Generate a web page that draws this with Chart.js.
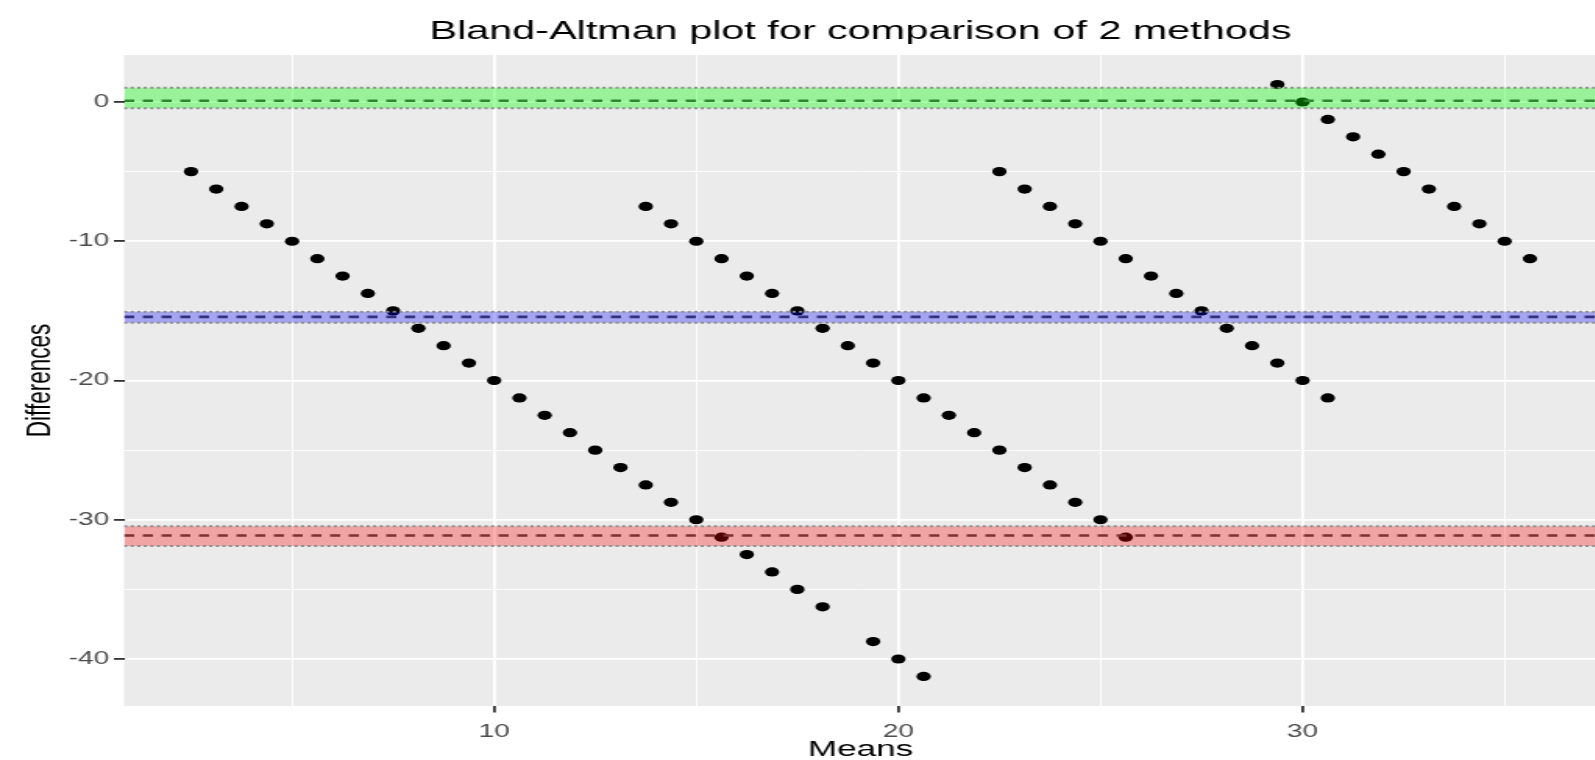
<!DOCTYPE html>
<html>
<head>
<meta charset="utf-8">
<script src="https://cdn.jsdelivr.net/npm/chart.js@4.4.1/dist/chart.umd.min.js"></script>
<style>
html,body{margin:0;padding:0;overflow:hidden;background:#fff;width:1595px;height:760px;}
</style>
</head>
<body>
<canvas id="c" width="1028" height="760" style="display:block;width:1604px;height:760px;"></canvas>
<script>
// ---------------- data ----------------
const titleText = 'Bland-Altman plot for comparison of 2 methods';
const xAxisTitle = 'Means';
const yAxisTitle = 'Differences';

const means = [
  2.5, 3.125, 3.75, 4.375, 5, 5.625, 6.25, 6.875, 7.5, 8.125, 8.75, 9.375, 10, 10.625, 11.25, 11.875,
  12.5, 13.125, 13.75, 14.375, 15, 15.625, 16.25, 16.875, 17.5, 18.125, 19.375, 20, 20.625,
  13.75, 14.375, 15, 15.625, 16.25, 16.875, 17.5, 18.125, 18.75, 19.375, 20, 20.625, 21.25, 21.875,
  22.5, 23.125, 23.75, 24.375, 25, 25.625,
  22.5, 23.125, 23.75, 24.375, 25, 25.625, 26.25, 26.875, 27.5, 28.125, 28.75, 29.375, 30, 30.625,
  29.375, 30, 30.625, 31.25, 31.875, 32.5, 33.125, 33.75, 34.375, 35, 35.625
];
const diffs = [
  -5, -6.25, -7.5, -8.75, -10, -11.25, -12.5, -13.75, -15, -16.25, -17.5, -18.75, -20, -21.25, -22.5, -23.75,
  -25, -26.25, -27.5, -28.75, -30, -31.25, -32.5, -33.75, -35, -36.25, -38.75, -40, -41.25,
  -7.5, -8.75, -10, -11.25, -12.5, -13.75, -15, -16.25, -17.5, -18.75, -20, -21.25, -22.5, -23.75,
  -25, -26.25, -27.5, -28.75, -30, -31.25,
  -5, -6.25, -7.5, -8.75, -10, -11.25, -12.5, -13.75, -15, -16.25, -17.5, -18.75, -20, -21.25,
  1.25, 0, -1.25, -2.5, -3.75, -5, -6.25, -7.5, -8.75, -10, -11.25
];

// limits of agreement / bias with their confidence intervals
const bandNames  = ['Upper limit of agreement', 'Mean difference', 'Lower limit of agreement'];
const bandCenter = [0.09, -15.43, -31.13];
const bandUpper  = [1.02, -15.07, -30.46];
const bandLower  = [-0.45, -15.86, -31.89];

const xLimits = [0.844, 37.28];
const yLimits = [-43.375, 3.375];
const xMajorTicks = [10, 20, 30];
const xMinorTicks = [5, 15, 25, 35];
const yMajorTicks = [-40, -30, -20, -10, 0];
const yMinorTicks = [-35, -25, -15, -5];

// ---------------- styles ----------------
const FONT = "'Liberation Sans', Arial, Helvetica, sans-serif";
const bandColors = ['rgba(0,255,0,0.35)', 'rgba(0,0,255,0.30)', 'rgba(255,0,0,0.30)'];
Chart.defaults.font.family = FONT;

function hline(y) {
  return [{x: xLimits[0], y: y}, {x: xLimits[1], y: y}];
}

const datasets = [];
datasets.push({
  label: 'Observations',
  data: means.map((m, i) => ({x: m, y: diffs[i]})),
  showLine: false,
  pointRadius: 4.6,
  pointHoverRadius: 4.6,
  pointBackgroundColor: '#000',
  pointBorderWidth: 0,
  order: 10
});
bandNames.forEach((name, i) => {
  datasets.push({
    label: name,
    data: hline(bandCenter[i]),
    borderColor: '#474747',
    borderWidth: 2.6,
    borderDash: [6.5, 5.5],
    pointRadius: 0,
    fill: false,
    order: 8
  });
  datasets.push({
    label: name + ' CI',
    data: hline(bandUpper[i]),
    borderWidth: 0,
    borderColor: 'rgba(0,0,0,0)',
    backgroundColor: bandColors[i],
    pointRadius: 0,
    fill: {value: bandLower[i]},
    order: 5
  });
  datasets.push({
    label: name + ' CI upper',
    data: hline(bandUpper[i]),
    borderColor: '#8c8c8c',
    borderWidth: 2,
    borderDash: [2, 2.2],
    pointRadius: 0,
    fill: false,
    order: 1
  });
  datasets.push({
    label: name + ' CI lower',
    data: hline(bandLower[i]),
    borderColor: '#8c8c8c',
    borderWidth: 2,
    borderDash: [2, 2.2],
    pointRadius: 0,
    fill: false,
    order: 1
  });
});

const panelBg = {
  id: 'panelBg',
  beforeDraw(chart) {
    const {ctx, chartArea: a} = chart;
    ctx.save();
    ctx.fillStyle = '#fff';
    ctx.fillRect(0, 0, chart.width, chart.height);
    ctx.fillStyle = '#EBEBEB';
    ctx.fillRect(a.left, a.top, a.right - a.left, a.bottom - a.top);
    ctx.restore();
  }
};

function buildTicks(majors, minors) {
  return majors.concat(minors).sort((a, b) => a - b).map(v => ({value: v}));
}

new Chart(document.getElementById('c'), {
  type: 'line',
  data: {datasets: datasets},
  plugins: [panelBg],
  options: {
    responsive: false,
    animation: false,
    devicePixelRatio: 1,
    events: [],
    layout: {padding: {left: 0, right: 0, top: 0, bottom: -1}},
    plugins: {
      legend: {display: false},
      tooltip: {enabled: false},
      title: {
        display: true,
        text: titleText,
        fullSize: false,
        color: '#000',
        font: {size: 26.5, weight: 'normal', lineHeight: 1.2},
        padding: {top: 16, bottom: 7.2}
      }
    },
    scales: {
      x: {
        type: 'linear',
        min: xLimits[0],
        max: xLimits[1],
        afterBuildTicks: s => { s.ticks = buildTicks(xMajorTicks, xMinorTicks); },
        ticks: {
          autoSkip: false,
          maxRotation: 0,
          color: '#4D4D4D',
          padding: 10.5,
          font: {size: 18, lineHeight: 1},
          callback: v => xMajorTicks.includes(v) ? String(v) : ''
        },
        grid: {
          color: '#ffffff',
          lineWidth: c => xMajorTicks.includes(c.tick && c.tick.value) ? 1.8 : 0.9,
          tickColor: c => xMajorTicks.includes(c.tick && c.tick.value) ? '#333333' : 'rgba(0,0,0,0)',
          tickLength: 6.5,
          tickWidth: 1.8
        },
        border: {display: false},
        title: {
          display: true,
          text: xAxisTitle,
          color: '#000',
          font: {size: 22.5, lineHeight: 1},
          padding: {top: -13, bottom: 0}
        }
      },
      y: {
        type: 'linear',
        min: yLimits[0],
        max: yLimits[1],
        afterBuildTicks: s => { s.ticks = buildTicks(yMajorTicks, yMinorTicks); },
        ticks: {
          autoSkip: false,
          color: '#4D4D4D',
          padding: 3,
          font: {size: 18, lineHeight: 1},
          callback: v => yMajorTicks.includes(v) ? String(v) : ''
        },
        grid: {
          color: '#ffffff',
          lineWidth: c => yMajorTicks.includes(c.tick && c.tick.value) ? 1.8 : 0.9,
          tickColor: c => yMajorTicks.includes(c.tick && c.tick.value) ? '#333333' : 'rgba(0,0,0,0)',
          tickLength: 6.5,
          tickWidth: 1.8
        },
        border: {display: false},
        title: {
          display: true,
          text: yAxisTitle,
          color: '#000',
          font: {size: 22.5, lineHeight: 1},
          padding: {top: 14.4, bottom: 4.1}
        }
      }
    }
  }
});
</script>
</body>
</html>
